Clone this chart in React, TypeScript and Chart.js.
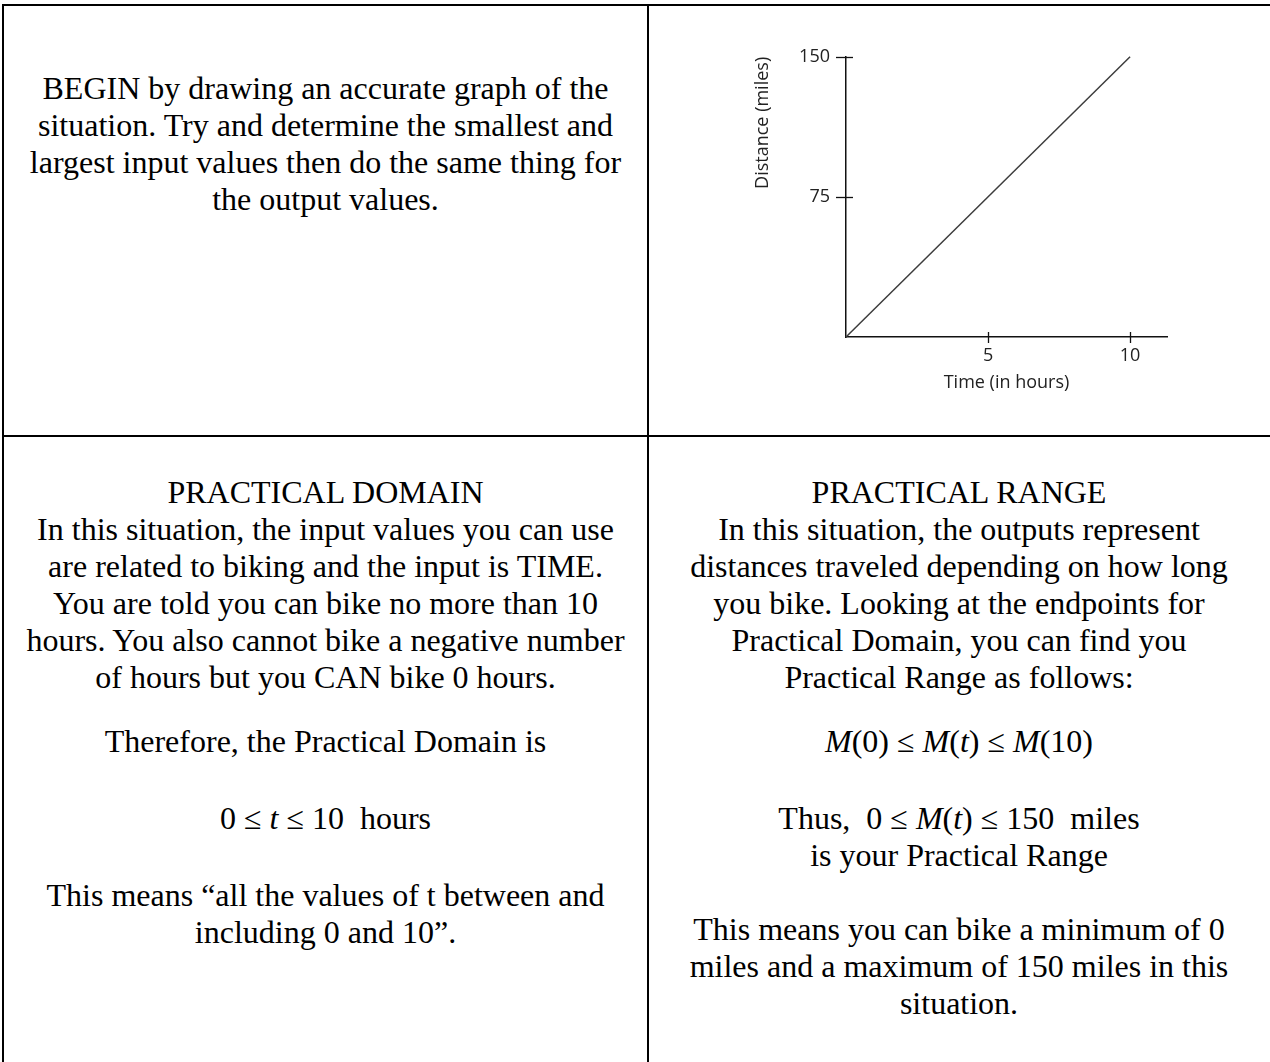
import React, { useEffect, useRef } from "react";
import { Chart, registerables } from "chart.js";

Chart.register(...registerables);

// ---- chart data ----
const timeHours = [0, 10];
const distanceMiles = [0, 150];
const xTickValues = [5, 10];
const yTickValues = [75, 150];
const xAxisMax = 11.3;
const yAxisMax = 150;
const xTitle = "Time (in hours)";
const yTitle = "Distance (miles)";

const SANS = "'Open Sans', 'DejaVu Sans', sans-serif";
const SERIF = "'Liberation Serif', 'Times New Roman', serif";

const crossTicks = {
  id: "crossTicks",
  afterDraw(chart: any) {
    const { ctx, chartArea, scales } = chart;
    ctx.save();
    ctx.strokeStyle = "#111";
    ctx.lineWidth = 1.3;
    scales.x.ticks.forEach((t: any) => {
      const px = Math.round(scales.x.getPixelForValue(t.value)) + 0.5;
      ctx.beginPath();
      ctx.moveTo(px, chartArea.bottom - 5);
      ctx.lineTo(px, chartArea.bottom + 6);
      ctx.stroke();
    });
    scales.y.ticks.forEach((t: any) => {
      const py = Math.round(scales.y.getPixelForValue(t.value)) + 0.5;
      ctx.beginPath();
      ctx.moveTo(chartArea.left - 10, py);
      ctx.lineTo(chartArea.left + 7, py);
      ctx.stroke();
    });
    ctx.restore();
  },
};

function DistanceChart() {
  const ref = useRef<HTMLCanvasElement>(null);
  useEffect(() => {
    if (!ref.current) return;
    const chart = new Chart(ref.current, {
      type: "scatter",
      data: {
        datasets: [
          {
            data: timeHours.map((t, i) => ({ x: t, y: distanceMiles[i] })),
            showLine: true,
            borderColor: "#3c3c3c",
            borderWidth: 1.5,
            pointRadius: 0,
            clip: false as any,
          },
        ],
      },
      options: {
        animation: false,
        responsive: false,
        devicePixelRatio: 1,
        layout: { padding: { top: 25, right: 33, bottom: 0, left: 0 } },
        plugins: { legend: { display: false }, tooltip: { enabled: false } },
        scales: {
          x: {
            type: "linear",
            min: 0,
            max: xAxisMax,
            afterBuildTicks: (s: any) => {
              s.ticks = xTickValues.map((v) => ({ value: v }));
            },
            afterFit: (s: any) => {
              s.height = 73;
            },
            grid: { display: false, drawTicks: false },
            border: { display: true, color: "#111", width: 1.5 },
            ticks: {
              color: "#222",
              font: { family: SANS, size: 18 },
              padding: 8,
              maxRotation: 0,
              autoSkip: false,
              callback: (v: any) => String(v),
            },
            title: {
              display: true,
              text: xTitle,
              color: "#222",
              font: { family: SANS, size: 18 },
              padding: { top: 0, bottom: 16 },
            },
          },
          y: {
            type: "linear",
            min: 0,
            max: yAxisMax,
            afterBuildTicks: (s: any) => {
              s.ticks = yTickValues.map((v) => ({ value: v }));
            },
            afterFit: (s: any) => {
              s.width = 106;
            },
            grid: { display: false, drawTicks: false },
            border: { display: true, color: "#111", width: 1.5 },
            ticks: {
              color: "#222",
              font: { family: SANS, size: 18 },
              padding: 16,
              autoSkip: false,
              callback: (v: any) => String(v),
            },
            title: {
              display: true,
              text: yTitle,
              align: "end",
              color: "#222",
              font: { family: SANS, size: 18 },
              padding: { top: 12, bottom: 0 },
            },
          },
        },
      },
      plugins: [crossTicks],
    } as any);
    return () => chart.destroy();
  }, []);
  return <canvas ref={ref} width={460} height={380} style={{ display: "block" }} />;
}

const lineStyle: React.CSSProperties = {
  whiteSpace: "nowrap",
  height: 37,
  lineHeight: "37px",
};

function Block({ left, width, top, lines }: { left: number; width: number; top: number; lines: React.ReactNode[] }) {
  return (
    <div style={{ position: "absolute", left, top, width, textAlign: "center" }}>
      {lines.map((l, i) => (
        <div key={i} style={lineStyle}>
          {l}
        </div>
      ))}
    </div>
  );
}

export default function App() {
  const L = { left: 4, width: 643 };
  const R = { left: 649, width: 620 };
  return (
    <div
      style={{
        position: "absolute",
        left: 0,
        top: 0,
        width: 1270,
        height: 1062,
        background: "#fff",
        overflow: "hidden",
        fontFamily: SERIF,
        fontSize: 32,
        color: "#000",
      }}
    >
      {/* table borders */}
      <div style={{ position: "absolute", left: 2, top: 4, width: 1268, height: 2, background: "#000" }} />
      <div style={{ position: "absolute", left: 2, top: 4, width: 2, height: 1058, background: "#000" }} />
      <div style={{ position: "absolute", left: 647, top: 4, width: 2, height: 1058, background: "#000" }} />
      <div style={{ position: "absolute", left: 2, top: 435, width: 1268, height: 2, background: "#000" }} />

      <Block
        {...L}
        top={70}
        lines={[
          "BEGIN by drawing an accurate graph of the",
          "situation. Try and determine the smallest and",
          "largest input values then do the same thing for",
          "the output values.",
        ]}
      />

      <div style={{ position: "absolute", left: 740, top: 30, width: 460, height: 380 }}>
        <DistanceChart />
      </div>

      <Block
        {...L}
        top={474}
        lines={[
          "PRACTICAL DOMAIN",
          "In this situation, the input values you can use",
          "are related to biking and the input is TIME.",
          "You are told you can bike no more than 10",
          "hours. You also cannot bike a negative number",
          "of hours but you CAN bike 0 hours.",
        ]}
      />
      <Block {...L} top={723} lines={["Therefore, the Practical Domain is"]} />
      <Block
        {...L}
        top={800}
        lines={[
          <span>
            0 ≤ <i>t</i> ≤ 10&nbsp; hours
          </span>,
        ]}
      />
      <Block {...L} top={877} lines={["This means “all the values of t between and", "including 0 and 10”."]} />

      <Block
        {...R}
        top={474}
        lines={[
          "PRACTICAL RANGE",
          "In this situation, the outputs represent",
          "distances traveled depending on how long",
          "you bike. Looking at the endpoints for",
          "Practical Domain, you can find you",
          "Practical Range as follows:",
        ]}
      />
      <Block
        {...R}
        top={723}
        lines={[
          <span>
            <i>M</i>(0) ≤ <i>M</i>(<i>t</i>) ≤ <i>M</i>(10)
          </span>,
        ]}
      />
      <Block
        {...R}
        top={800}
        lines={[
          <span>
            Thus,&nbsp; 0 ≤ <i>M</i>(<i>t</i>) ≤ 150&nbsp; miles
          </span>,
          "is your Practical Range",
        ]}
      />
      <Block
        {...R}
        top={911}
        lines={[
          "This means you can bike a minimum of 0",
          "miles and a maximum of 150 miles in this",
          "situation.",
        ]}
      />
    </div>
  );
}
